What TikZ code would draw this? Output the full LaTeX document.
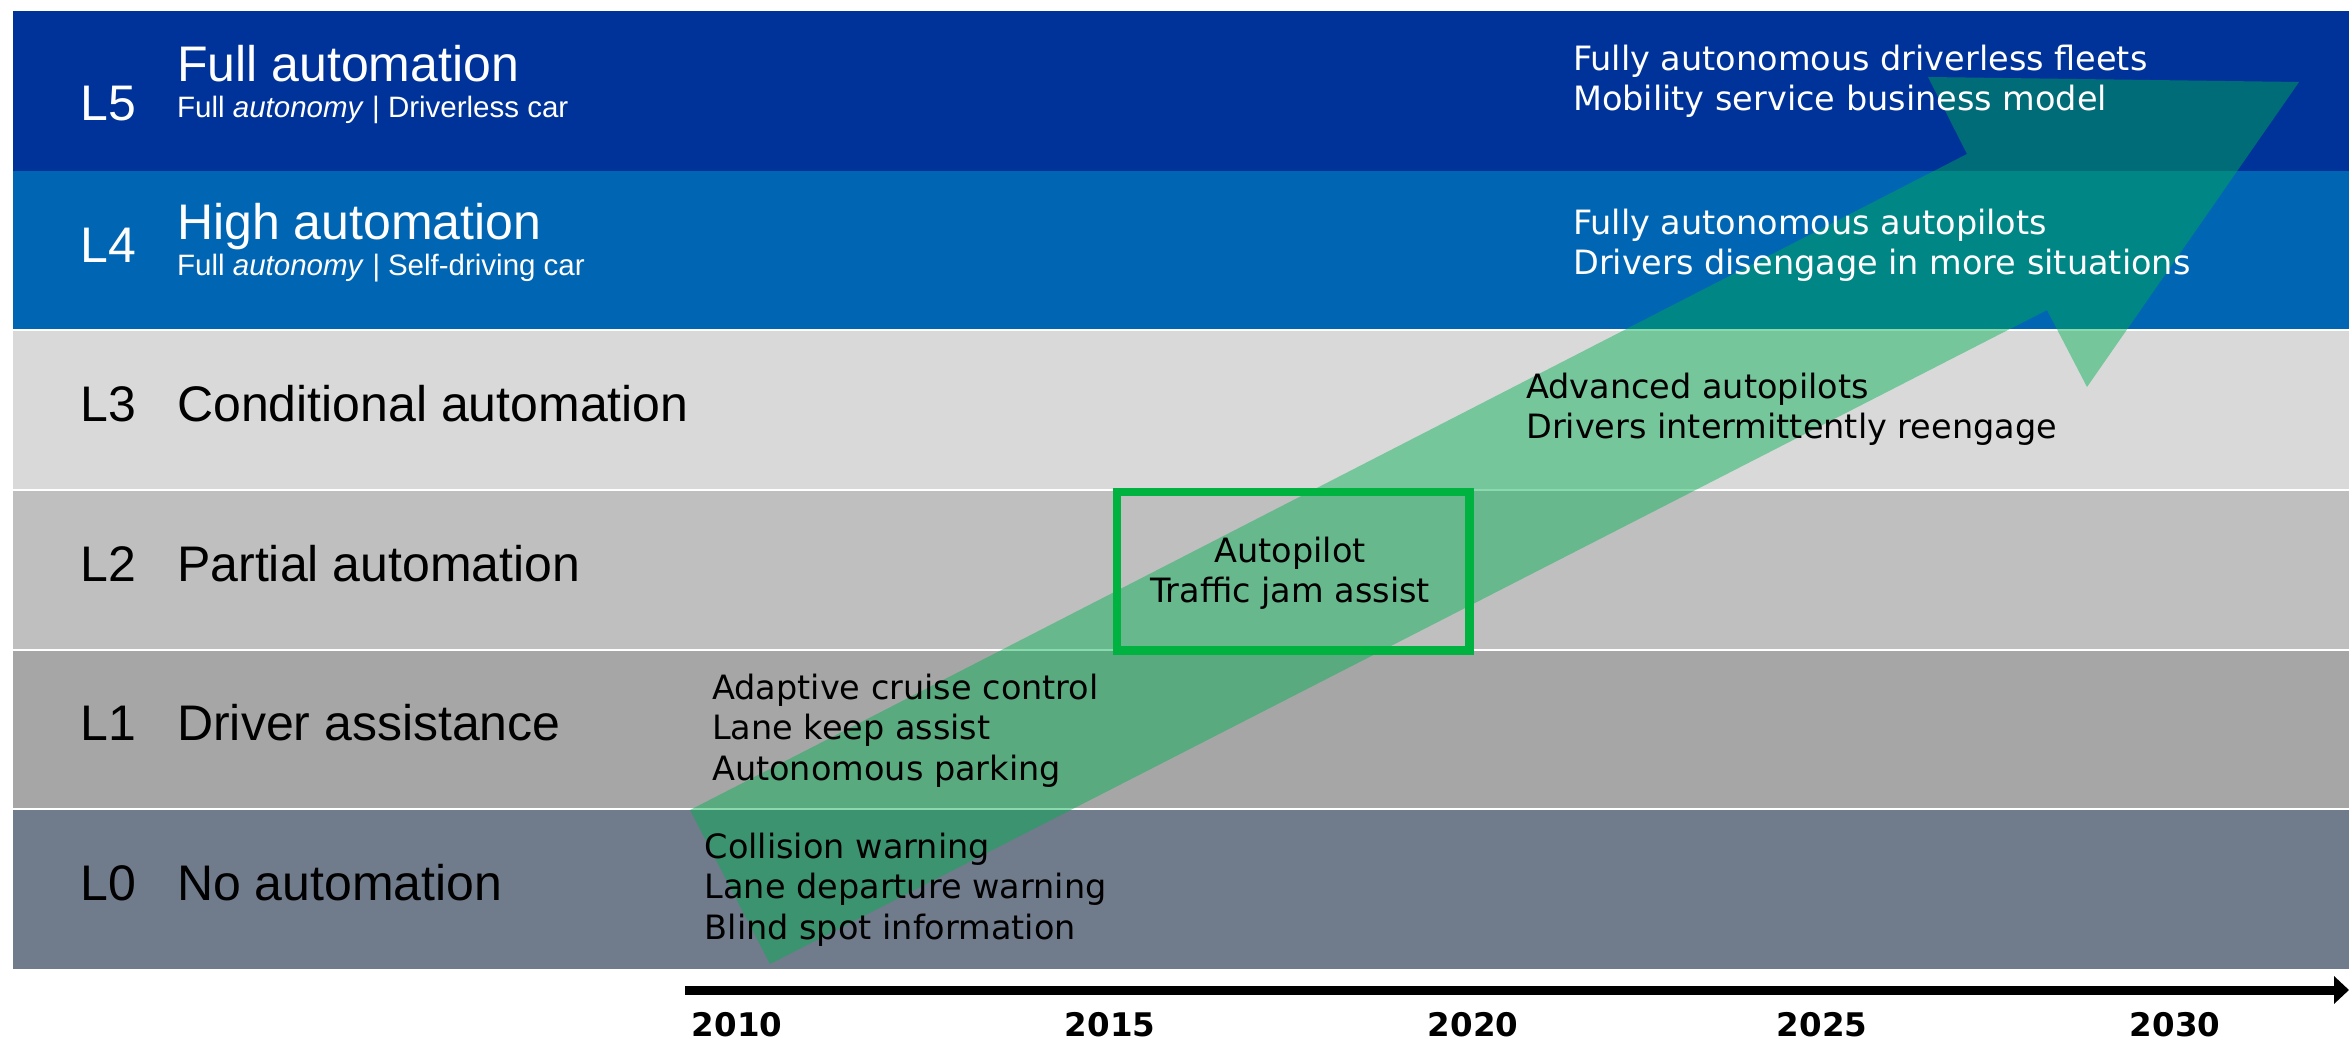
\documentclass[tikz,border=0pt]{standalone}
\usepackage{fontspec}
\setmainfont{Liberation Sans}
\newfontfamily\notefont{DejaVu Sans}
\usetikzlibrary{arrows.meta}

\definecolor{lvfive}{RGB}{0,51,153}
\definecolor{lvfour}{RGB}{0,102,179}
\definecolor{lvthree}{RGB}{217,217,217}
\definecolor{lvtwo}{RGB}{191,191,191}
\definecolor{lvone}{RGB}{166,166,166}
\definecolor{lvzero}{RGB}{112,123,139}
\definecolor{trendgreen}{RGB}{0,176,80}
\definecolor{boxgreen}{RGB}{0,178,64}

\begin{document}
\begin{tikzpicture}[x=1pt,y=-1pt,
  band/.style={fill=#1, draw=none},
  sep/.style={draw=white, line width=2pt},
  lvl/.style={anchor=base west, inner sep=0pt, font=\fontsize{50}{60}\selectfont},
  sub/.style={anchor=base west, inner sep=0pt, font=\fontsize{29.5}{34}\selectfont},
  note/.style={anchor=base west, inner sep=0pt, font=\notefont\fontsize{33.5}{40}\selectfont},
  cnote/.style={anchor=base, inner sep=0pt, font=\notefont\fontsize{33.5}{40}\selectfont},
  year/.style={anchor=base, inner sep=0pt, font=\notefont\bfseries\fontsize{32.5}{38}\selectfont},
  trend/.style={fill=trendgreen, fill opacity=0.46, draw=none},
  focus/.style={draw=boxgreen, line width=8.5pt},
  axis/.style={line width=9pt, -{Triangle[length=15pt,width=27pt]}},
]
\useasboundingbox (0,0) rectangle (2349,1040);

% level bands
\fill[band=lvfive]  (13,11)    rectangle (2349,170.7);
\fill[band=lvfour]  (13,170.7) rectangle (2349,330.3);
\fill[band=lvthree] (13,330.3) rectangle (2349,490);
\fill[band=lvtwo]   (13,490)   rectangle (2349,649.7);
\fill[band=lvone]   (13,649.7) rectangle (2349,809.3);
\fill[band=lvzero]  (13,809.3) rectangle (2349,969);
\foreach \yy in {330.3,490,649.7,809.3}
  \draw[sep] (13,\yy) -- (2349,\yy);

% trend arrow
\fill[trend] (690,810) -- (1967,154) -- (1928,77) -- (2299,82)
  -- (2087,387) -- (2047,310) -- (770,964) -- cycle;

% level names
\node[lvl, text=white] (l5) at (80,121) {L5};
\node[lvl, text=white] (l5t) at (177,82) {Full automation};
\node[sub, text=white] (l5s) at (177,118) {Full \textit{autonomy} | Driverless car};
\node[lvl, text=white] (l4) at (80,263) {L4};
\node[lvl, text=white] (l4t) at (177,240) {High automation};
\node[sub, text=white] (l4s) at (177,276) {Full \textit{autonomy} \textit{|} Self-driving car};
\node[lvl] (l3) at (80,421) {L3};
\node[lvl] (l3t) at (177,421) {Conditional automation};
\node[lvl] (l2) at (80,581) {L2};
\node[lvl] (l2t) at (177,581) {Partial automation};
\node[lvl] (l1) at (80,740) {L1};
\node[lvl] (l1t) at (177,740) {Driver assistance};
\node[lvl] (l0) at (80,900) {L0};
\node[lvl] (l0t) at (177,900) {No automation};

% features per level
\node[note, text=white] (f5a) at (1573,70.7) {Fully autonomous driverless fleets};
\node[note, text=white] (f5b) at (1573,110.5) {Mobility service business model};
\node[note, text=white] (f4a) at (1573,235) {Fully autonomous autopilots};
\node[note, text=white] (f4b) at (1573,275) {Drivers disengage in more situations};
\node[note] (f3a) at (1526,398) {Advanced autopilots};
\node[note] (f3b) at (1526,438) {Drivers intermittently reengage};
\node[note] (f1a) at (712,699) {Adaptive cruise control};
\node[note] (f1b) at (712,739.5) {Lane keep assist};
\node[note] (f1c) at (712,780) {Autonomous parking};
\node[note] (f0a) at (704.5,858.5) {Collision warning};
\node[note] (f0b) at (704.5,898.5) {Lane departure warning};
\node[note] (f0c) at (704.5,939) {Blind spot information};

% current state highlight
\draw[focus] (1117,492) rectangle (1469.5,650.5);
\node[cnote] (f2a) at (1290,562) {Autopilot};
\node[cnote] (f2b) at (1290,602) {Traffic jam assist};

% time axis
\coordinate (tstart) at (685,990);
\coordinate (tend) at (2349,990);
\draw[axis] (tstart) -- (tend);
\node[year] (y2010) at (737,1036) {2010};
\node[year] (y2015) at (1110,1036) {2015};
\node[year] (y2020) at (1473,1036) {2020};
\node[year] (y2025) at (1822,1036) {2025};
\node[year] (y2030) at (2175,1036) {2030};
\end{tikzpicture}
\end{document}
